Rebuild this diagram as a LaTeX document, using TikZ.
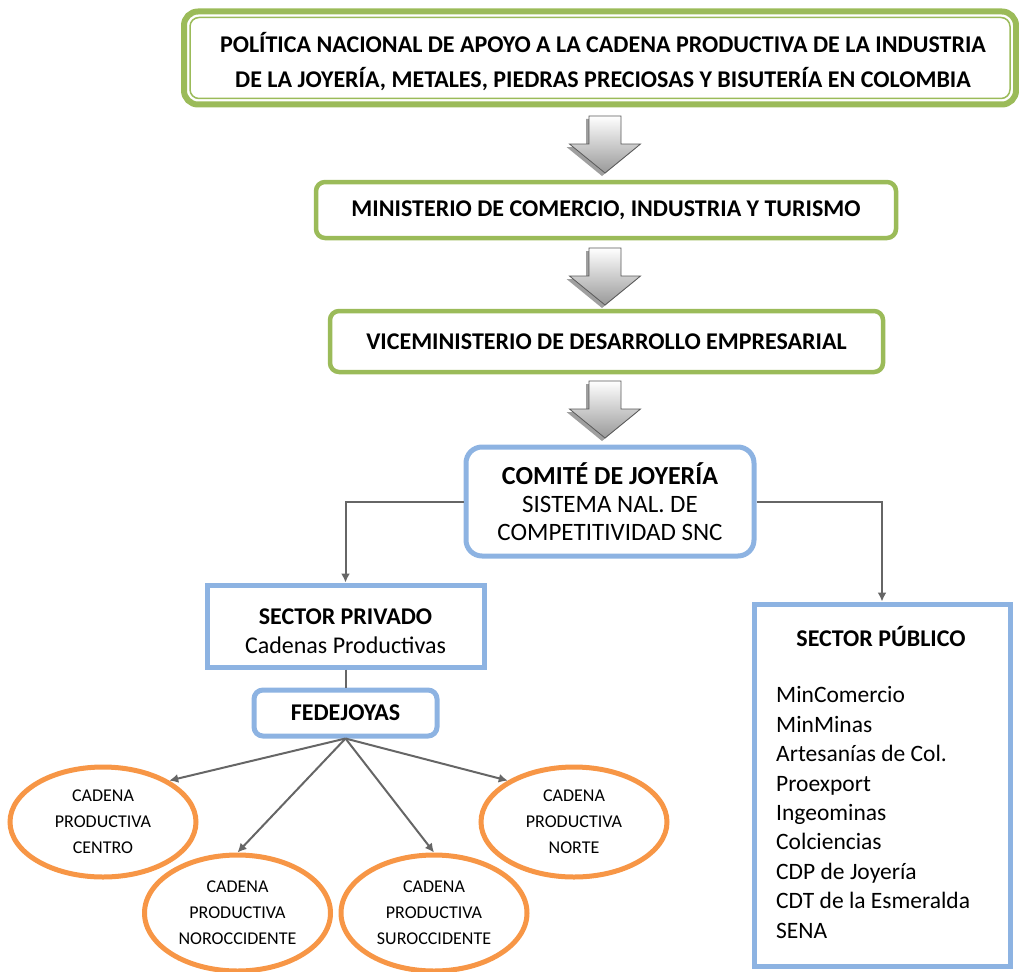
\documentclass[tikz,border=0pt]{standalone}
\usepackage{fontspec}
\setmainfont{Carlito}
\usetikzlibrary{arrows.meta,shapes.geometric}
\definecolor{cgreen}{HTML}{9BBB59}
\definecolor{cblue}{HTML}{8DB3E2}
\definecolor{corange}{HTML}{F79646}
\definecolor{cline}{HTML}{666666}
\tikzset{
  greenbox/.style={draw=cgreen, line width=4.5pt, rounded corners=9pt, fill=white, minimum height=56pt, inner sep=0pt, font=\fontsize{24}{28}\selectfont\bfseries},
  bluebox/.style={draw=cblue, line width=5pt, fill=white, inner sep=0pt, align=center, font=\fontsize{24}{29}\selectfont},
  oval/.style={ellipse, draw=corange, line width=5pt, fill=white, minimum width=186pt, minimum height=110pt, inner sep=0pt, align=center, font=\fontsize{18}{26}\selectfont},
  conn/.style={draw=cline, line width=2pt, -{Latex[length=9pt,width=9pt]}},
  plain/.style={draw=cline, line width=2pt},
}
\newcommand\blockarrow[2]{%
  \fill[gray!75] (#1-16-3,#2+3) -- (#1+16-3,#2+3) -- (#1+16-3,#2+28+3) -- (#1+35.5-3,#2+28+3) -- (#1-3,#2+57+3) -- (#1-35.5-3,#2+28+3) -- (#1-16-3,#2+28+3) -- cycle;
  \shade[top color=white, bottom color=gray!80, draw=gray!70!black, line width=0.8pt] (#1-16,#2) -- (#1+16,#2) -- (#1+16,#2+28) -- (#1+35.5,#2+28) -- (#1,#2+57) -- (#1-35.5,#2+28) -- (#1-16,#2+28) -- cycle;
}
\begin{document}
\begin{tikzpicture}[x=1pt,y=-1pt]
\useasboundingbox (0,0) rectangle (1019,971);
% top box
\node[draw=cgreen, line width=6pt, rounded corners=14pt, minimum width=832pt, minimum height=93pt, inner sep=0pt] (pol) at (600,58) {};
\node[draw=cgreen, line width=1.5pt, rounded corners=9pt, minimum width=820pt, minimum height=81pt, inner sep=0pt] (poli) at (600,58) {};
\node[align=center, inner sep=0pt, font=\fontsize{24}{35}\selectfont\bfseries] (polt) at (603,62)
  {POLÍTICA NACIONAL DE APOYO A LA CADENA PRODUCTIVA DE LA INDUSTRIA\\DE LA JOYERÍA, METALES, PIEDRAS PRECIOSAS Y BISUTERÍA EN COLOMBIA};
\blockarrow{605}{116}
\node[greenbox, minimum width=580pt] (min) at (606,210) {MINISTERIO DE COMERCIO, INDUSTRIA Y TURISMO};
\blockarrow{605}{248}
\node[greenbox, minimum width=553pt, minimum height=61pt] (vice) at (606.5,341.5) {VICEMINISTERIO DE DESARROLLO EMPRESARIAL};
\blockarrow{605}{381}
\node[bluebox, rounded corners=16pt, minimum width=288pt, minimum height=109pt, font=\fontsize{25}{28}\selectfont] (com) at (610,501.5)
  {{\fontsize{26}{28}\selectfont\bfseries COMITÉ DE JOYERÍA}\\SISTEMA NAL. DE\\COMPETITIVIDAD SNC};
\node[bluebox, minimum width=277pt, minimum height=82pt] (priv) at (345.5,626) {};
\node[align=center, inner sep=0pt, font=\fontsize{24}{29}\selectfont] (privt) at (345.5,631)
  {{\bfseries SECTOR PRIVADO}\\Cadenas Productivas};
\node[bluebox, rounded corners=9pt, minimum width=183pt, minimum height=46pt, font=\fontsize{24}{28}\selectfont\bfseries] (fed) at (345.5,713) {FEDEJOYAS};
\node[bluebox, minimum width=256pt, minimum height=362pt] (pub) at (882,785) {};
\node[font=\fontsize{24}{28}\selectfont\bfseries] (pubt) at (881,637) {SECTOR PÚBLICO};
\node[anchor=west, inner sep=0pt, align=left, font=\fontsize{23.5}{29.4}\selectfont] (publ) at (776,812.5)
  {MinComercio\\MinMinas\\Artesanías de Col.\\Proexport\\Ingeominas\\Colciencias\\CDP de Joyería\\CDT de la Esmeralda\\SENA};
% ellipses
\node[oval] (cen) at (103,822) {CADENA\\PRODUCTIVA\\CENTRO};
\node[oval, minimum height=116pt] (nor) at (237.5,913) {CADENA\\PRODUCTIVA\\NOROCCIDENTE};
\node[oval, minimum height=116pt] (sur) at (434,913) {CADENA\\PRODUCTIVA\\SUROCCIDENTE};
\node[oval] (nte) at (574,822) {CADENA\\PRODUCTIVA\\NORTE};
% connectors
\draw[conn] (com.west) -| (priv.north);
\draw[conn] (com.east) -| (pub.north);
\draw[plain] (priv.south) -- (fed.north);
\draw[conn] (fed.south) -- (cen.32);
\draw[conn] (fed.south) -- (nor.north);
\draw[conn] (fed.south) -- (sur.north);
\draw[conn] (fed.south) -- (nte.148);
\end{tikzpicture}
\end{document}
